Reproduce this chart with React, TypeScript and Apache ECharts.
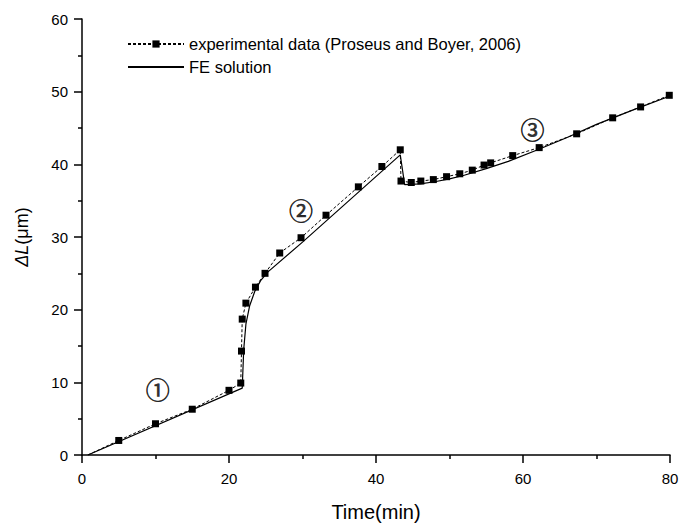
import React, { useEffect, useRef } from "react";
import * as echarts from "echarts";

const expTime = [0.8, 5, 10, 15, 20, 21.6, 21.7, 21.8, 22.3, 23.6, 24.9, 26.9, 29.8, 33.2, 37.6, 40.8, 43.3, 43.4, 44.8, 46.1, 47.8, 49.6, 51.4, 53.1, 54.7, 55.6, 58.6, 62.2, 67.3, 72.2, 76.0, 79.9];
const expDL = [0, 2.0, 4.3, 6.3, 8.9, 9.9, 14.3, 18.7, 20.9, 23.1, 25.0, 27.8, 29.9, 33.0, 36.9, 39.7, 42.0, 37.7, 37.5, 37.7, 37.9, 38.3, 38.7, 39.2, 39.9, 40.2, 41.2, 42.3, 44.2, 46.4, 47.9, 49.5];
const expMarked = [false, true, true, true, true, true, true, true, true, true, true, true, true, true, true, true, true, true, true, true, true, true, true, true, true, true, true, true, true, true, true, true];

const feTime = [0.8, 21.8, 22.0, 22.3, 22.8, 23.5, 24.3, 25.3, 30, 43.3, 43.9, 46, 48, 50, 52, 55, 58, 62, 66, 70, 75, 80];
const feDL = [0, 9.2, 14.5, 18.0, 20.5, 22.5, 24.0, 25.2, 29.3, 41.3, 37.2, 37.3, 37.6, 38.0, 38.5, 39.4, 40.4, 42.0, 43.7, 45.5, 47.5, 49.4];

const stageX = [10.3, 29.8, 61.3];
const stageY = [9.1, 33.8, 45.0];
const stageLabel = ["①", "②", "③"];

const xTicks = { min: 0, max: 80, interval: 20 };
const yTicks = { min: 0, max: 60, interval: 10 };

const seriesNames = ["experimental data (Proseus and Boyer, 2006)", "FE solution"];

const FONT = "'Liberation Sans', Arial, sans-serif";

export default function App() {
  const ref = useRef<HTMLDivElement>(null);
  useEffect(() => {
    if (!ref.current) return;
    const chart = echarts.init(ref.current, null, { renderer: "svg" });
    const expData = expTime.map((t, i) =>
      expMarked[i] ? [t, expDL[i]] : { value: [t, expDL[i]], symbol: "none" }
    );
    const feData = feTime.map((t, i) => [t, feDL[i]]);
    const stageData = stageX.map((x, i) => ({ value: [x, stageY[i]], name: stageLabel[i] }));
    const axisCommon = {
      axisLine: { show: true, lineStyle: { color: "#000", width: 1.5 } },
      axisTick: { show: true, inside: false, length: 8, lineStyle: { color: "#000", width: 1.5 } },
      minorTick: { show: true, splitNumber: 2, length: 4, lineStyle: { color: "#000", width: 1.5 } },
      splitLine: { show: false },
      minorSplitLine: { show: false },
    };
    chart.setOption({
      animation: false,
      backgroundColor: "#fff",
      textStyle: { fontFamily: FONT },
      grid: { left: 82, right: 16, top: 19, bottom: 74, containLabel: false },
      legend: {
        data: [
          { name: seriesNames[0] },
          { name: seriesNames[1], itemStyle: { opacity: 0 } },
        ],
        orient: "vertical",
        left: 122,
        top: 30,
        itemWidth: 56,
        itemHeight: 9,
        itemGap: 5,
        textStyle: { fontSize: 16.5, color: "#000", fontFamily: FONT, lineHeight: 18 },
      },
      xAxis: {
        type: "value",
        ...xTicks,
        name: "Time(min)",
        nameLocation: "middle",
        nameGap: 47,
        nameTextStyle: { fontSize: 20, color: "#000", fontFamily: FONT },
        axisLabel: { fontSize: 15, color: "#000", margin: 16, fontFamily: FONT },
        ...axisCommon,
      },
      yAxis: {
        type: "value",
        ...yTicks,
        name: "{i|ΔL}(μm)",
        nameLocation: "middle",
        nameGap: 51,
        nameTextStyle: {
          fontSize: 18,
          color: "#000",
          fontFamily: FONT,
          padding: [0, 0, 0, 0],
          rich: { i: { fontStyle: "italic", fontSize: 18, color: "#000", fontFamily: FONT } },
        },
        axisLabel: { fontSize: 15, color: "#000", margin: 14, fontFamily: FONT },
        ...axisCommon,
      },
      series: [
        {
          name: seriesNames[0],
          type: "line",
          data: expData,
          symbol: "rect",
          symbolSize: 7,
          itemStyle: { color: "#000" },
          lineStyle: { color: "#000", width: 1, type: [3, 2] },
          z: 3,
        },
        {
          name: seriesNames[1],
          type: "line",
          data: feData,
          symbol: "none",
          smooth: false,
          itemStyle: { color: "#000" },
          lineStyle: { color: "#000", width: 1.2, type: "solid" },
          z: 2,
        },
        {
          name: "stages",
          type: "scatter",
          data: stageData,
          symbolSize: 0,
          silent: true,
          label: {
            show: true,
            position: "inside",
            formatter: (p: any) => p.name,
            fontSize: 24,
            color: "#000",
            textBorderColor: "#000",
            textBorderWidth: 0.6,
            fontFamily: "'Noto Sans CJK SC', 'DejaVu Sans', sans-serif",
          },
        },
      ],
    });
    return () => chart.dispose();
  }, []);
  return (
    <div
      ref={ref}
      style={{ position: "fixed", left: 0, top: 0, width: 686, height: 529, background: "#fff" }}
    />
  );
}
